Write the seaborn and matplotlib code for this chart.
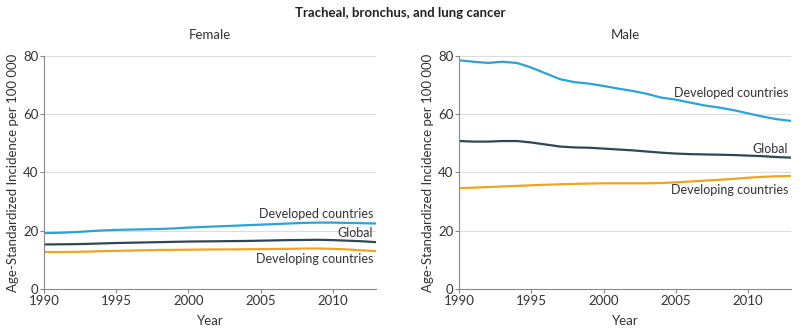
import matplotlib
matplotlib.use('Agg')
import matplotlib.pyplot as plt
import numpy as np
import pandas as pd
import seaborn as sns

years = list(range(1990, 2014))

female_developed = [19.2, 19.3, 19.5, 19.8, 20.1, 20.3, 20.4, 20.5, 20.6, 20.8, 21.1, 21.3, 21.5, 21.7, 21.9, 22.1, 22.3, 22.5, 22.7, 22.8, 22.8, 22.7, 22.6, 22.5]
female_global = [15.3, 15.35, 15.4, 15.5, 15.65, 15.8, 15.9, 16.0, 16.1, 16.2, 16.3, 16.35, 16.4, 16.45, 16.5, 16.6, 16.7, 16.8, 16.85, 16.9, 16.8, 16.6, 16.4, 16.1]
female_developing = [12.7, 12.7, 12.75, 12.85, 13.0, 13.1, 13.2, 13.3, 13.4, 13.45, 13.5, 13.55, 13.6, 13.6, 13.65, 13.7, 13.75, 13.8, 13.9, 13.9, 13.8, 13.6, 13.3, 13.0]

male_developed = [78.5, 78.0, 77.6, 78.0, 77.6, 76.0, 74.0, 72.0, 71.0, 70.5, 69.7, 68.8, 68.0, 67.0, 65.7, 65.0, 64.0, 63.0, 62.3, 61.4, 60.3, 59.2, 58.3, 57.7]
male_global = [50.8, 50.6, 50.6, 50.8, 50.8, 50.3, 49.6, 48.9, 48.6, 48.5, 48.2, 47.9, 47.6, 47.2, 46.8, 46.5, 46.3, 46.2, 46.1, 46.0, 45.8, 45.6, 45.3, 45.1]
male_developing = [34.6, 34.8, 35.0, 35.2, 35.4, 35.6, 35.8, 35.95, 36.1, 36.2, 36.3, 36.3, 36.3, 36.3, 36.4, 36.6, 36.9, 37.2, 37.5, 37.8, 38.2, 38.5, 38.7, 38.8]

groups = ['Developed countries', 'Global', 'Developing countries']
colors = {'Developed countries': '#2aa3d9', 'Global': '#2f4755', 'Developing countries': '#f2a31f'}

# where the end labels sit (value on y axis)
label_pos = {
    'Female': {'Developed countries': 25.8, 'Global': 19.2, 'Developing countries': 10.3},
    'Male': {'Developed countries': 67.3, 'Global': 48.1, 'Developing countries': 34.0},
}

rows = []
for sex, series in [('Female', [female_developed, female_global, female_developing]),
                    ('Male', [male_developed, male_global, male_developing])]:
    for g, vals in zip(groups, series):
        for y, v in zip(years, vals):
            rows.append({'Sex': sex, 'Group': g, 'Year': y, 'Value': v})
df = pd.DataFrame(rows)

sns.set_theme(style='white')
plt.rcParams['font.family'] = ['Lato', 'DejaVu Sans']
fs = 9.5

fig = plt.figure(figsize=(8, 3.33), dpi=100)
axes = [fig.add_axes([0.055, 0.132, 0.415, 0.70]),
        fig.add_axes([0.574, 0.132, 0.415, 0.70])]

text_col = '#333333'
for ax, sex in zip(axes, ['Female', 'Male']):
    sns.lineplot(data=df[df.Sex == sex], x='Year', y='Value', hue='Group',
                 palette=colors, hue_order=groups, linewidth=1.6, ax=ax, legend=False)
    ax.set_xlim(1990, 2013)
    ax.set_ylim(0, 80)
    ax.set_xticks([1990, 1995, 2000, 2005, 2010])
    ax.set_yticks([0, 20, 40, 60, 80])
    for v in [20, 40, 60, 80]:
        ax.axhline(v, color='#dddddd', linewidth=0.8, zorder=0)
    for s in ['top', 'right']:
        ax.spines[s].set_visible(False)
    for s in ['left', 'bottom']:
        ax.spines[s].set_color('#888888')
        ax.spines[s].set_linewidth(0.8)
    ax.tick_params(axis='both', which='both', direction='out', length=3, width=0.8,
                   color='#888888', labelsize=fs, labelcolor=text_col, pad=1,
                   left=True, bottom=True)
    ax.set_xlabel('Year', fontsize=fs, color=text_col, labelpad=6)
    ax.set_ylabel('Age-Standardized Incidence per 100 000', fontsize=fs, color=text_col, labelpad=3)
    ax.set_title(sex, fontsize=fs, color=text_col, pad=12)
    for g in groups:
        ax.text(2012.8, label_pos[sex][g], g, ha='right', va='center',
                fontsize=9, color=text_col)

fig.text(0.5, 0.962, 'Tracheal, bronchus, and lung cancer', ha='center', va='center',
         fontsize=fs, fontweight='bold', color='#222222')

plt.savefig('out.png', dpi=100)
